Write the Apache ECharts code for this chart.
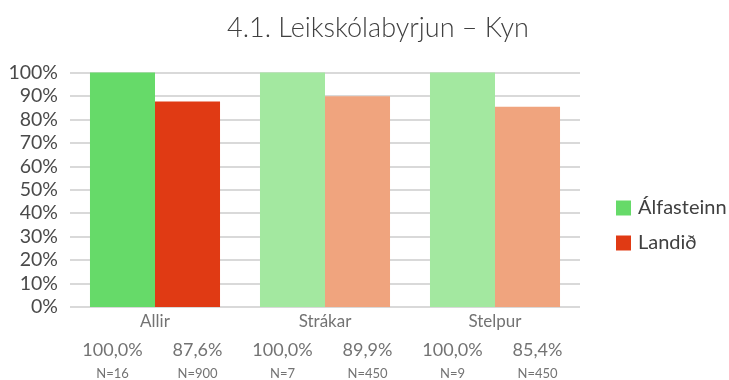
<!DOCTYPE html>
<html>
<head>
<meta charset="utf-8">
<script src="https://cdn.jsdelivr.net/npm/echarts@6/dist/echarts.min.js"></script>
<style>
  html, body { margin: 0; padding: 0; background: #fff; }
  #chart { width: 729px; height: 380px; }
</style>
</head>
<body>
<div id="chart"></div>
<script>
// Data
const categories = ['Allir', 'Strákar', 'Stelpur'];
const seriesNames = ['Álfasteinn', 'Landið'];
const alfasteinn = [100.0, 100.0, 100.0];
const landid = [87.6, 89.9, 85.4];
const nAlfasteinn = [16, 7, 9];
const nLandid = [900, 450, 450];
const yTicks = [0, 10, 20, 30, 40, 50, 60, 70, 80, 90, 100];

// Colours: strong for the first group, pale for the others
const greenStrong = '#66DA69', greenPale = '#A3E8A0';
const redStrong = '#E03A14', redPale = '#F0A47E';

const fontFamily = 'Lato, "Open Sans", sans-serif';

function fmt(v) { return v.toFixed(1).replace('.', ',') + '%'; }

// Value + N labels sit under each bar, on a second axis with one slot per bar
const subLabels = [];
categories.forEach((c, i) => {
  subLabels.push(fmt(alfasteinn[i]) + '\n{n|N=' + nAlfasteinn[i] + '}');
  subLabels.push(fmt(landid[i]) + '\n{n|N=' + nLandid[i] + '}');
});

const chart = echarts.init(document.getElementById('chart'));
chart.setOption({
  animation: false,
  textStyle: { fontFamily: fontFamily },
  title: {
    text: '4.1. Leikskólabyrjun – Kyn',
    left: 373, top: 10, textAlign: 'center',
    textStyle: { fontFamily: fontFamily, fontSize: 27, fontWeight: 300, color: '#404040' }
  },
  legend: {
    orient: 'vertical',
    left: 611, top: 193,
    itemWidth: 15, itemHeight: 15, itemGap: 15,
    icon: 'rect',
    data: seriesNames,
    textStyle: { fontFamily: fontFamily, fontSize: 20, color: '#404040', padding: [0, 0, 0, 2] }
  },
  grid: { left: 70, right: 149, top: 72.5, bottom: 73, outerBoundsMode: 'none' },
  xAxis: [
    {
      type: 'category',
      data: categories,
      axisLine: { show: false },
      axisTick: { show: false },
      axisLabel: { fontFamily: fontFamily, fontSize: 17, color: '#737373', margin: 6 }
    },
    {
      type: 'category',
      position: 'bottom',
      data: subLabels,
      axisLine: { show: false },
      axisTick: { show: false },
      axisLabel: {
        fontFamily: fontFamily, fontSize: 18, color: '#737373', margin: 31,
        lineHeight: 24, interval: 0,
        rich: { n: { fontFamily: fontFamily, fontSize: 13, color: '#737373', lineHeight: 24 } }
      }
    }
  ],
  yAxis: {
    type: 'value',
    min: yTicks[0], max: yTicks[yTicks.length - 1], interval: 10,
    axisLine: { show: false },
    axisTick: { show: false },
    axisLabel: { formatter: '{value}%', fontFamily: fontFamily, fontSize: 19.5, color: '#4a4a4a', margin: 12 },
    splitLine: { lineStyle: { color: '#d9d9d9', width: 2 } }
  },
  series: [
    {
      name: seriesNames[0], type: 'bar', xAxisIndex: 0,
      barGap: '0%', barCategoryGap: '23.5%',
      itemStyle: { color: greenStrong },
      data: alfasteinn.map((v, i) => ({ value: v, itemStyle: { color: i === 0 ? greenStrong : greenPale } }))
    },
    {
      name: seriesNames[1], type: 'bar', xAxisIndex: 0,
      itemStyle: { color: redStrong },
      data: landid.map((v, i) => ({ value: v, itemStyle: { color: i === 0 ? redStrong : redPale } }))
    }
  ]
});
</script>
</body>
</html>
